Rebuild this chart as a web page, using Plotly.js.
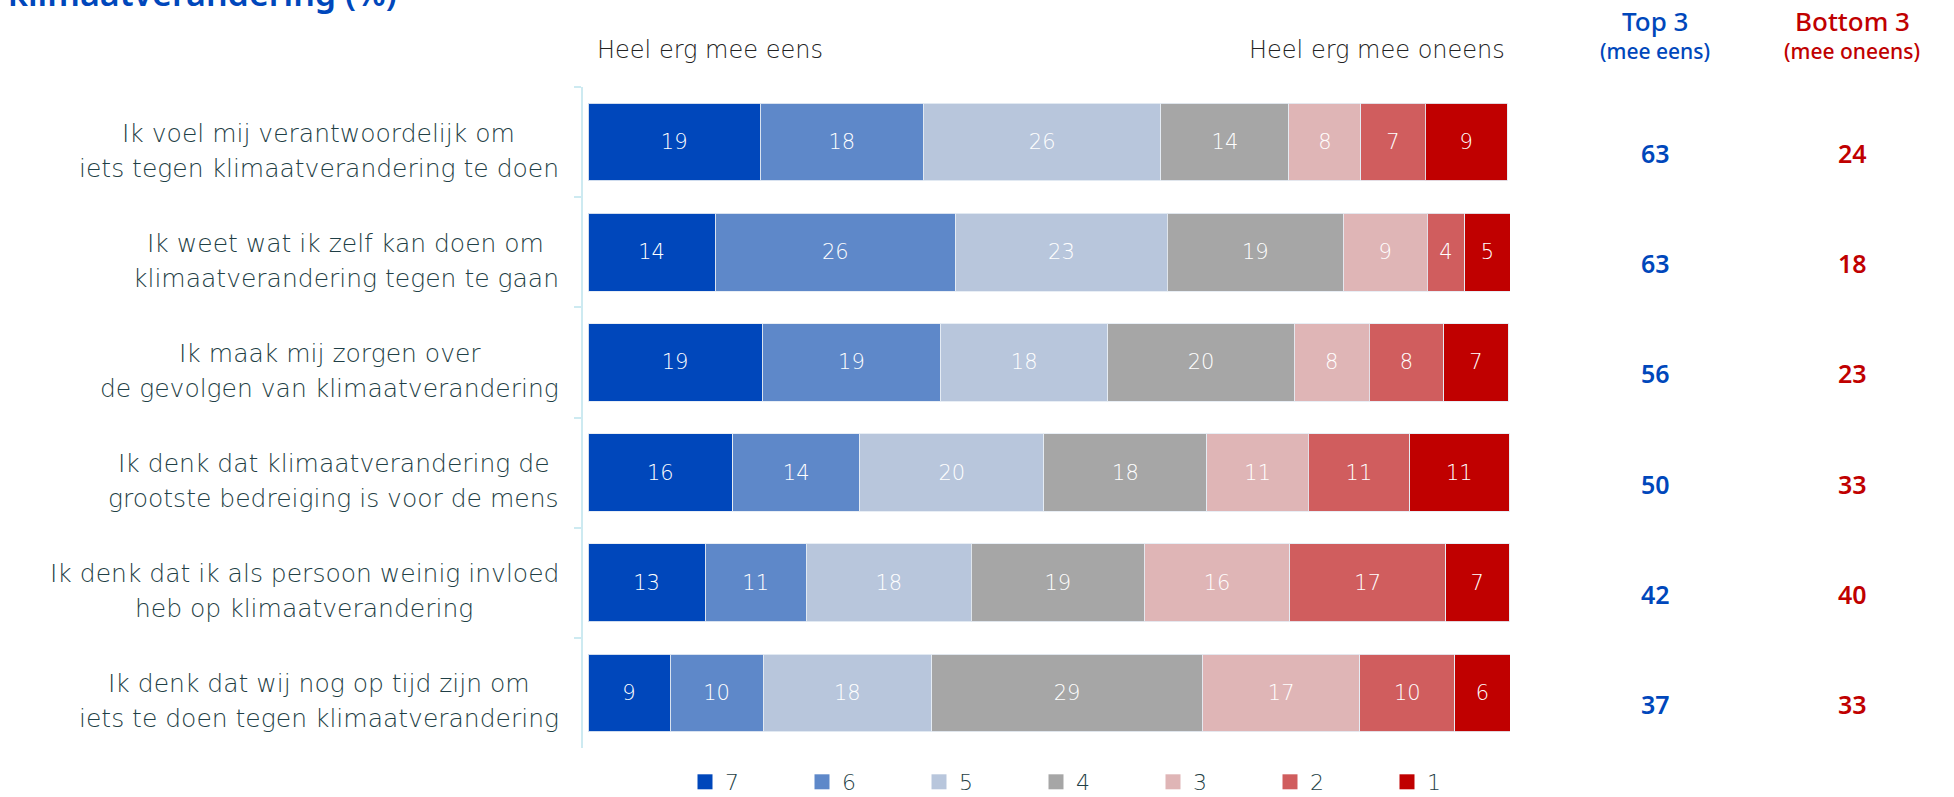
<!DOCTYPE html>
<html>
<head>
<meta charset="utf-8">
<script src="https://cdn.plot.ly/plotly-3.0.1.min.js"></script>
<style>html,body{margin:0;padding:0;background:#fff;}#chart{width:1954px;height:797px;}</style>
</head>
<body>
<div id="chart"></div>
<script>
// ---- data ----
const categories = [
  "Ik voel mij verantwoordelijk om<br>iets tegen klimaatverandering te doen",
  "Ik weet wat ik zelf kan doen om<br>klimaatverandering tegen te gaan",
  "Ik maak mij zorgen over<br>de gevolgen van klimaatverandering",
  "Ik denk dat klimaatverandering de<br>grootste bedreiging is voor de mens",
  "Ik denk dat ik als persoon weinig invloed<br>heb op klimaatverandering",
  "Ik denk dat wij nog op tijd zijn om<br>iets te doen tegen klimaatverandering"
];
const seriesNames = ["7", "6", "5", "4", "3", "2", "1"];
const s7 = [18.7, 13.8, 18.9, 15.7, 12.7, 8.9];
const s6 = [17.7, 26.1, 19.4, 13.8, 11.0, 10.1];
const s5 = [25.8, 23.0, 18.1, 20.0, 17.9, 18.3];
const s4 = [13.9, 19.1, 20.3, 17.7, 18.8, 29.4];
const s3 = [7.8, 9.1, 8.1, 11.0, 15.8, 17.1];
const s2 = [7.0, 4.1, 8.1, 11.0, 16.9, 10.3];
const s1 = [8.9, 4.9, 7.0, 10.8, 6.9, 6.0];
const top3 = [63, 63, 56, 50, 42, 37];
const bottom3 = [24, 18, 23, 33, 40, 33];

const seriesValues = [s7, s6, s5, s4, s3, s2, s1];
const colors = ["#0047BB", "#5E88C9", "#B8C6DC", "#A6A6A6", "#DFB5B6", "#D05D5E", "#C00000"];
const LIGHT = "DejaVu Sans, sans-serif";
const BOLD = "Noto Sans, sans-serif";
const LABEL = "#1f3f46";
const LABEL_SIZE = 25;

const traces = seriesNames.map((name, i) => ({
  type: "bar",
  orientation: "h",
  name: name,
  y: categories,
  x: seriesValues[i],
  showlegend: false,
  legendgroup: name,
  marker: {color: colors[i], line: {color: "rgba(230,236,244,0.9)", width: 1}},
  texttemplate: "%{x:.0f}",
  textposition: "inside",
  insidetextanchor: "middle",
  textangle: 0,
  constraintext: "none",
  insidetextfont: {family: LIGHT, size: 21, color: "#ffffff", weight: 200},
  hoverinfo: "x+y+name"
}));
// legend proxies (square markers)
seriesNames.forEach((name, i) => traces.push({
  type: "scatter", mode: "markers", name: name, legendgroup: name,
  x: [null], y: [categories[0]], hoverinfo: "skip",
  marker: {symbol: "square", size: 15, color: colors[i]}
}));

const W = 1954, H = 797;
const px = v => v / W;
const py = v => 1 - v / H;

// measure text widths to center each label line within a right-aligned block
const ctx = document.createElement("canvas").getContext("2d");
ctx.font = `200 ${LABEL_SIZE}px "DejaVu Sans"`;
const measure = t => ctx.measureText(t).width;

const annotations = [];
const RIGHT = 559;
categories.forEach(c => {
  const lines = c.split("<br>");
  const widths = lines.map(measure);
  const maxW = Math.max(...widths);
  const centerX = RIGHT - maxW / 2;
  const shifts = [9, -26];
  lines.forEach((ln, k) => annotations.push({
    xref: "paper", yref: "y", x: px(centerX), y: c, xanchor: "center", yanchor: "middle",
    text: ln, showarrow: false, yshift: shifts[k],
    font: {family: LIGHT, size: LABEL_SIZE, color: LABEL, weight: 200}
  }));
});
// top3 / bottom3 values
categories.forEach((c, i) => {
  annotations.push({xref: "paper", yref: "y", x: px(1655), y: c, xanchor: "center", yanchor: "middle",
    text: String(top3[i]), showarrow: false, yshift: -11,
    font: {family: BOLD, size: 25, color: "#0047BB", weight: 600}});
  annotations.push({xref: "paper", yref: "y", x: px(1852), y: c, xanchor: "center", yanchor: "middle",
    text: String(bottom3[i]), showarrow: false, yshift: -11,
    font: {family: BOLD, size: 25, color: "#C00000", weight: 600}});
});
// column headers
annotations.push({xref: "paper", yref: "paper", x: px(1655), y: py(21), xanchor: "center", yanchor: "middle",
  text: "Top 3", showarrow: false, font: {family: BOLD, size: 26, color: "#0047BB", weight: 500}});
annotations.push({xref: "paper", yref: "paper", x: px(1655), y: py(51), xanchor: "center", yanchor: "middle",
  text: "(mee eens)", showarrow: false, font: {family: BOLD, size: 21, color: "#0047BB", weight: 500}});
annotations.push({xref: "paper", yref: "paper", x: px(1852), y: py(21), xanchor: "center", yanchor: "middle",
  text: "Bottom 3", showarrow: false, font: {family: BOLD, size: 26, color: "#C00000", weight: 500}});
annotations.push({xref: "paper", yref: "paper", x: px(1852), y: py(51), xanchor: "center", yanchor: "middle",
  text: "(mee oneens)", showarrow: false, font: {family: BOLD, size: 21, color: "#C00000", weight: 500}});
// scale end labels
annotations.push({xref: "paper", yref: "paper", x: px(595), y: py(50), xanchor: "left", yanchor: "middle",
  text: "Heel erg mee eens", showarrow: false, font: {family: LIGHT, size: 24, color: "#222", weight: 200}});
annotations.push({xref: "paper", yref: "paper", x: px(1507), y: py(50), xanchor: "right", yanchor: "middle",
  text: "Heel erg mee oneens", showarrow: false, font: {family: LIGHT, size: 24, color: "#222", weight: 200}});
// (cut-off) title
annotations.push({xref: "paper", yref: "paper", x: px(6), y: py(18), xanchor: "left", yanchor: "bottom",
  text: "klimaatverandering (%)", showarrow: false, font: {family: BOLD, size: 34, color: "#0047BB", weight: 600}});

const layout = {
  width: W, height: H,
  margin: {l: 0, r: 0, t: 0, b: 0, autoexpand: false},
  paper_bgcolor: "#fff", plot_bgcolor: "#fff",
  barmode: "stack",
  bargap: 0.295,
  showlegend: true,
  legend: {orientation: "h", x: px(685), xanchor: "left", y: py(782), yanchor: "middle",
    traceorder: "normal", font: {family: LIGHT, size: 22, color: LABEL, weight: 200},
    entrywidth: 72, entrywidthmode: "pixels", itemwidth: 30, bgcolor: "rgba(0,0,0,0)"},
  xaxis: {domain: [px(583), px(1510)], range: [-0.55, 100.1], visible: false, fixedrange: true},
  yaxis: {domain: [py(748), py(87)], type: "category", autorange: "reversed",
    showticklabels: false, showgrid: false, zeroline: false,
    showline: true, linecolor: "#cdeaf1", linewidth: 2,
    ticks: "outside", tickson: "boundaries", ticklen: 7, tickcolor: "#cdeaf1", tickwidth: 2},
  annotations: annotations
};

Plotly.newPlot("chart", traces, layout, {displayModeBar: false, responsive: false});
</script>
</body>
</html>
